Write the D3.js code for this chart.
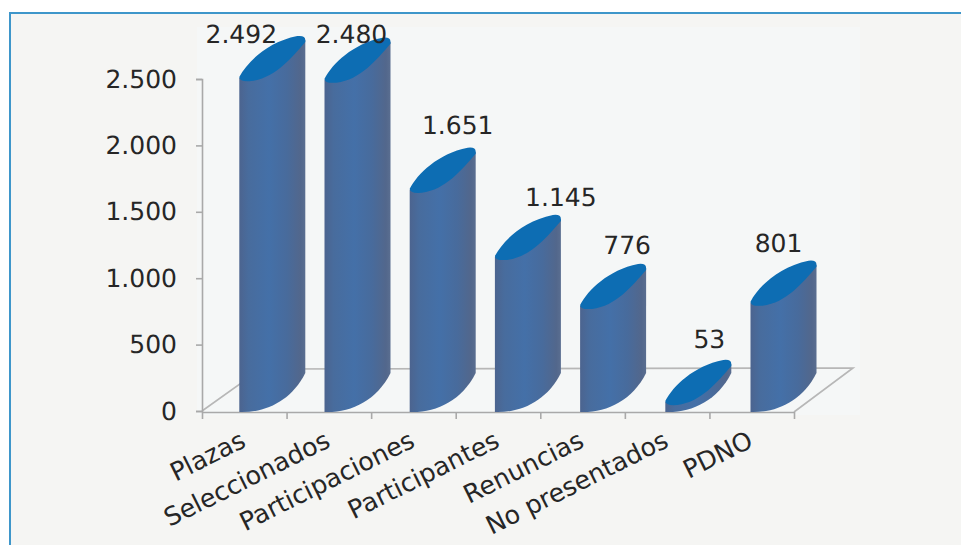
<!DOCTYPE html>
<html><head><meta charset="utf-8">
<script src="https://cdn.jsdelivr.net/npm/d3@7/dist/d3.min.js"></script>
<style>html,body{margin:0;padding:0;background:#fff}svg{display:block}text{font-family:"DejaVu Sans",sans-serif;fill:#262626;text-rendering:geometricPrecision}</style>
</head><body><svg id="c" width="961" height="545"></svg>
<script>
const categories=["Plazas","Seleccionados","Participaciones","Participantes","Renuncias","No presentados","PDNO"];
const values=[2492,2480,1651,1145,776,53,801];
const valueLabels=["2.492","2.480","1.651","1.145","776","53","801"];
const yTicks=[0,500,1000,1500,2000,2500];
const yTickLabels=["0","500","1.000","1.500","2.000","2.500"];
// hand placement of the value labels relative to each column's left edge and top
const labelDx=[2,27,48,66,47,44,28];
const labelDy=[37,39,58,53,54,56,53];

const svg=d3.select("#c");
const x=d3.scaleBand().domain(categories).range([202,794]);
const barX=d3.scaleBand().domain(categories).range([239.3,239.3+7*85.2]);
const y=d3.scaleLinear().domain([0,2500]).range([411,79]);
const depthX=59,depthY=-43,barW=66;
const y0=y(0);

// panel: the frame runs off the right and bottom of the picture
svg.append("rect").attr("x",9).attr("y",12).attr("width",960).attr("height",540).attr("fill","#3e96ca");
svg.append("rect").attr("x",11).attr("y",14).attr("width",960).attr("height",540).attr("fill","#f5f5f3");
svg.append("rect").attr("x",197).attr("y",27).attr("width",663).attr("height",388).attr("fill","#f5f7f7");

const defs=svg.append("defs");
const g=defs.append("linearGradient").attr("id","body").attr("x1",0).attr("x2",1).attr("y1",0).attr("y2",0);
[[0,"#4c648f"],[.14,"#486c9d"],[.45,"#4470a8"],[.72,"#486b9c"],[.93,"#52678c"],[1,"#5a6e90"]].forEach(d=>g.append("stop").attr("offset",d[0]).attr("stop-color",d[1]));

// floor
const grid="#b7b7b7";
const floor=svg.append("g").attr("fill","none").attr("stroke",grid).attr("stroke-width",1.6);
floor.append("path").attr("d",`M202,${y0}L${202+depthX},${y0+depthY+1}L${794+depthX},${y0+depthY}L794,${y0+1}`);

// axes
const yAxis=d3.axisLeft(y).tickValues(yTicks).tickFormat((d,i)=>yTickLabels[i]).tickSize(6).tickPadding(19);
const gy=svg.append("g").attr("transform","translate(202,0)").call(yAxis);
gy.selectAll("path,line").attr("stroke","#a9a9a9").attr("stroke-width",1.6);
gy.selectAll("text").attr("font-size",25).attr("fill","#262626");

const edge=d3.scaleLinear().domain([0,categories.length]).range(x.range());
const xAxis=d3.axisBottom(edge).ticks(categories.length).tickFormat("").tickSize(7).tickSizeOuter(0);
const gx=svg.append("g").attr("transform",`translate(0,${y0+1})`).call(xAxis);
gx.selectAll("path,line").attr("stroke","#a9a9a9").attr("stroke-width",1.6);

// columns
const data=categories.map((c,i)=>({c,v:values[i],i}));
const bx=d=>barX(d.c);
const bars=svg.append("g").selectAll("g").data(data).join("g");
bars.append("path").attr("fill","url(#body)").attr("d",d=>{
  const l=bx(d),t=y(d.v);
  return `M${l},${t-2}L${l},${y0+1}C${l+26},${y0+2} ${l+52},${y0-10} ${l+barW},${y0-38}L${l+barW},${t-40}Z`;
});
bars.append("path").attr("fill","#0d6db3").attr("d",d=>{
  const l=bx(d),t=y(d.v);
  return `M${l},${t-3}C${l+8},${t-18} ${l+28},${t-38} ${l+58},${t-44}Q${l+barW},${t-45} ${l+barW},${t-40}L${l+barW},${t-38}C${l+52},${t-22} ${l+36},${t-2} ${l+12},${t+1}Q${l},${t+2} ${l},${t-3}Z`;
});

// value labels
svg.append("g").selectAll("text").data(data).join("text")
  .attr("x",d=>bx(d)+labelDx[d.i]).attr("y",d=>y(d.v)-labelDy[d.i])
  .attr("text-anchor","middle").attr("font-size",25).text((d)=>valueLabels[d.i]);

// category labels
svg.append("g").selectAll("text").data(data).join("text")
  .attr("transform",d=>`translate(${x(d.c)+x.bandwidth()/2+3},446) rotate(-26.5)`)
  .attr("text-anchor","end").attr("font-size",25.4).text(d=>d.c);
</script></body></html>
